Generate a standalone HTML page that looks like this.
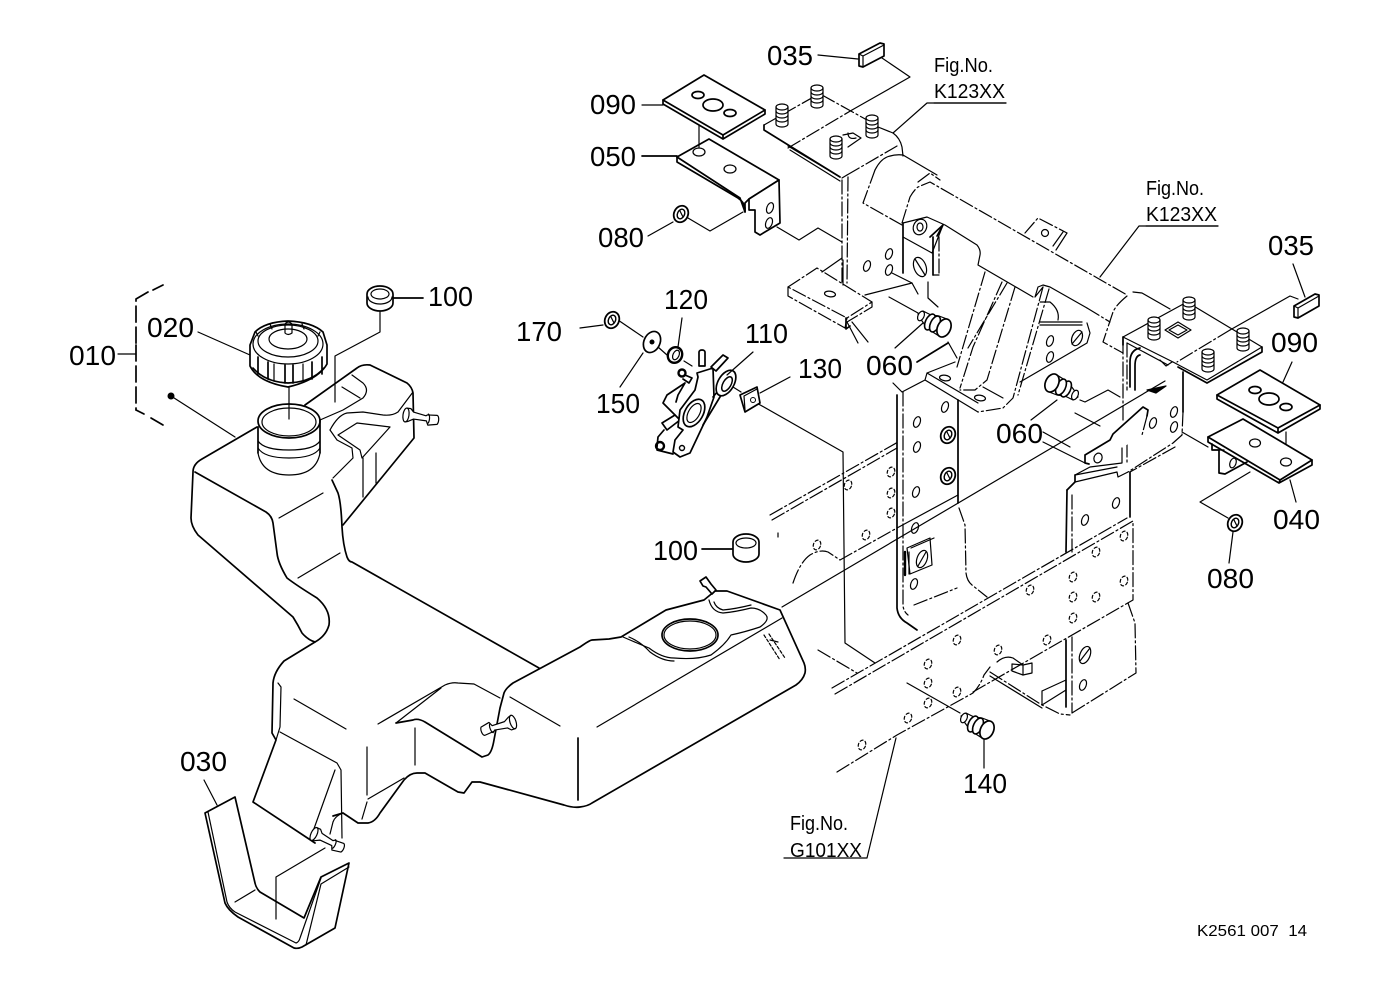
<!DOCTYPE html>
<html><head><meta charset="utf-8"><title>Parts diagram</title>
<style>
html,body{margin:0;padding:0;background:#fff;width:1379px;height:1001px;overflow:hidden}
svg{display:block}
path,line,ellipse,polygon,polyline{fill:none;stroke:#000;stroke-width:1.2;stroke-linejoin:round;stroke-linecap:round}
.m,.m *{stroke-width:1.7}
.h,.h *{stroke-width:2.4}
.d{stroke-dasharray:14 3 2 3}
.s{stroke-dasharray:3 2}
.w{fill:#fff}
text{font-family:"Liberation Sans",sans-serif;fill:#000;stroke:none}
.n{font-size:28px}
.f{font-size:20px}
</style></head><body>
<svg width="1379" height="1001" viewBox="0 0 1379 1001" xmlns="http://www.w3.org/2000/svg">
<defs>
<g id="stud"><path class="w" d="M-6,-9 A6,3 0 0 1 6,-9 L6,8 A6,3 0 0 1 -6,8 Z"/><path d="M-6,-9 A6,3 0 0 0 6,-9 M-6,-5 A6,3 0 0 0 6,-5 M-6,-1 A6,3 0 0 0 6,-1 M-6,3 A6,3 0 0 0 6,3"/></g>
<g id="nut"><ellipse class="w" rx="7" ry="8.5" transform="rotate(25)" style="stroke-width:1.8"/><ellipse rx="3.5" ry="5" transform="rotate(25)" style="stroke-width:1.4"/><path d="M-1,-3 L2,3"/></g>
<ellipse id="ho" rx="3.2" ry="5.5" transform="rotate(20)"/>
<ellipse id="hd" rx="3.6" ry="5" transform="rotate(20)" stroke-dasharray="3 2.5"/>
<ellipse id="lh" rx="5.5" ry="2.8" transform="rotate(8)"/>
<g id="bolt">
<path class="w" d="M-24,-13 L-19,-16 L-11,-12 L-3,-11 L5,-8 L6,5 L-3,9 L-14,2 L-20,-6 Z"/>
<ellipse cx="-21" cy="-11" rx="3" ry="5" transform="rotate(25 -21 -11)" class="w"/>
<ellipse cx="-12" cy="-5" rx="4.5" ry="8.5" transform="rotate(25 -12 -5)" class="w" style="stroke-width:1.6"/>
<ellipse cx="-7" cy="-3" rx="4.5" ry="8.5" transform="rotate(25 -7 -3)" class="w" style="stroke-width:1.6"/>
<ellipse cx="2" cy="1" rx="6.5" ry="9.5" transform="rotate(25 2 1)" class="w" style="stroke-width:1.7"/>
</g>
<g id="fit"><path class="w" d="M0,-7 a3,7 0 0 0 0,14 l3,-1 l5,-3 l13,0 l2,4 l9,-2 a2.5,5 0 0 0 -1,-9 l-10,1 l-1,1 l-13,-2 l-3,-3 Z"/><path d="M0,-7 a3,7 0 0 1 0,14 M22,-4 a2,5 0 0 1 1,9"/></g>
</defs>

<!-- long leader lines first -->
<line x1="782" y1="607" x2="1165" y2="381"/>
<path d="M755,402 L843,452 L845,643 L875,663"/>

<!-- Rails -->
<path class="d" d="M770,515 L898,442 M772,520 L897,448"/>
<path class="d" d="M793,583 Q800,562 810,555 Q820,549 828,552 L840,560 L897,528"/>
<path d="M897,528 L958,495"/>
<path class="d" d="M832,688 L1127,518 M835,694 L1133,521"/>
<line x1="818" y1="650" x2="857" y2="673" class="d"/>
<line x1="778" y1="533" x2="778" y2="537"/>
<path class="d" d="M837,772 L897,735 L973,693 Q980,686 984,675 L990,667"/>
<path class="d" d="M973,692 L1133,600 L1133,521"/>
<path class="d" d="M1128,603 L1135,623 L1136,673 L1072,713"/>
<path class="d" d="M990,672 L1042,705 L1060,714 L1070,715"/>
<path d="M990,676 L1042,708"/>
<path d="M1042,691 L1066,680 M1042,691 L1042,705 M1042,705 L1066,690"/>
<path d="M997,662 Q1005,655 1013,658 L1023,665 L1032,663 L1032,673 L1023,675 L1012,671 L1012,664 L1023,665"/>
<line x1="1023" y1="665" x2="1023" y2="675"/>
<path class="m" d="M1066,640 L1066,707 M1067,490 L1066,552"/>
<path class="d" d="M1072,637 L1072,713 M1072,495 L1072,552"/>

<!-- Central vertical frame -->
<path class="m" d="M897,395 L897,608 Q898,618 907,623 L917,630"/>
<path class="m" d="M958,400 L958,503"/>
<path class="d" d="M903,392 L903,606 Q904,612 908,615"/>
<line x1="914" y1="605" x2="957" y2="588" class="d"/>
<path class="d" d="M959,508 L965,525 L966,573 Q967,581 972,585 L987,597"/>
<path d="M893,383 L902,392 L925,380 M927,373 L925,380 L978,412 M927,373 L955,362 M927,373 L978,403"/>
<!-- Square in frame -->
<path class="w" d="M907,548 L930,538 L932,565 L910,574 Z"/>
<path d="M911,548 L934,538"/>
<path class="h" d="M905,552 L905,575"/>
<path d="M909,552 L909,574"/>
<ellipse cx="922" cy="559" rx="5" ry="9" transform="rotate(20 922 559)"/>
<line x1="918" y1="566" x2="926" y2="552"/>

<use href="#ho" x="945" y="407"/><use href="#ho" x="917" y="422"/><use href="#ho" x="917" y="447"/><use href="#ho" x="916" y="492"/><use href="#ho" x="915" y="528"/><use href="#ho" x="914" y="584"/>
<use href="#nut" x="948" y="435"/><use href="#nut" x="948" y="476"/>

<!-- Dashed holes in rails -->
<g>
<use href="#hd" x="891" y="472"/><use href="#hd" x="891" y="493"/><use href="#hd" x="891" y="513"/><use href="#hd" x="848" y="485"/><use href="#hd" x="866" y="535"/><use href="#hd" x="817" y="545"/><use href="#hd" x="1030" y="590"/><use href="#hd" x="957" y="640"/><use href="#hd" x="928" y="664"/><use href="#hd" x="928" y="683"/><use href="#hd" x="957" y="692"/><use href="#hd" x="928" y="703"/><use href="#hd" x="908" y="718"/><use href="#hd" x="862" y="745"/><use href="#hd" x="998" y="650"/><use href="#hd" x="1047" y="640"/><use href="#hd" x="1073" y="577"/><use href="#hd" x="1073" y="597"/><use href="#hd" x="1096" y="597"/><use href="#hd" x="1073" y="618"/><use href="#hd" x="1124" y="581"/><use href="#hd" x="1096" y="552"/><use href="#hd" x="1124" y="536"/>
</g>
<ellipse cx="1085" cy="655" rx="5" ry="9" transform="rotate(22 1085 655)"/><line x1="1080" y1="661" x2="1090" y2="648"/>
<use href="#ho" x="1083" y="685"/>
<use href="#ho" x="1085" y="520"/><use href="#ho" x="1116" y="503"/>

<!-- Top frame K123 -->
<g>
<path class="d" d="M764,125 L817,95 M822,95 L867,120"/>
<path class="m" d="M764,125 L764,130 L840,177"/>
<path d="M788,146 L840,177 M790,150 L840,181"/>
<path class="d" d="M788,148 L852,110 M847,175 L897,146"/>
<path d="M852,110 L910,77 L882,58"/>
<path d="M878,127 L893,133 Q900,138 902,147 L903,156"/>
<path d="M893,133 L927,103 L1006,103"/>
<path class="d" d="M842,180 L842,285 M848,177 L847,283"/>
<path d="M842,178 L847,175"/>
<path class="d" d="M875,170 L863,203 L902,225"/>
<path d="M875,170 Q880,160 887,157 Q895,154 903,155"/>
<path d="M903,155 L937,175"/>
<path class="d" d="M902,223 L910,197 Q914,190 918,187 L930,182 L1127,295"/>
<path class="d" d="M918,182 L930,173 L940,180"/>
<path d="M903,223 L927,217 L945,225 L977,245 Q981,250 980,255 L978,265 L1033,297"/>
<path d="M843,135 L853,133 L861,138 L848,147 M848,133 Q848,140 856,138"/>
<use href="#stud" x="782" y="116"/><use href="#stud" x="817" y="97"/><use href="#stud" x="872" y="127"/><use href="#stud" x="836" y="148"/>
</g>
<!-- Lower-left bracket on frame -->
<path class="d" d="M788,287 L817,268 L872,302 L847,318 L788,287"/>
<path class="d" d="M788,287 L788,296 L845,328 L847,318 M872,302 L872,307 L847,322"/>
<path class="m" d="M846,318 L846,329 L850,326"/>
<path d="M822,272 L842,258 M865,295 L912,283 M847,322 L858,343 M852,322 L868,342"/>
<use href="#lh" x="830" y="294"/>
<path d="M843,260 L843,285"/>
<use href="#ho" x="867" y="266"/><use href="#ho" x="889" y="254"/><use href="#ho" x="889" y="270"/>
<path d="M892,273 L912,283 L918,294 M889,297 L918,313"/>

<!-- Frame centre -->
<g>
<path class="m" d="M903,223 L903,273"/>
<path d="M903,237 L932,253 M932,253 L943,225"/>
<path class="m" d="M933,237 L933,275"/>
<path class="d" d="M939,237 L939,275"/>
<path d="M933,275 L939,275"/>
<ellipse cx="920" cy="227" rx="6.5" ry="8" transform="rotate(25 920 227)" class="w"/><ellipse cx="920" cy="227" rx="3" ry="4"/>
<path class="m" d="M930,237 L943,225 L937,236"/>
<ellipse cx="920" cy="267" rx="6" ry="10" transform="rotate(-20 920 267)"/><line x1="915" y1="259" x2="925" y2="275"/>
<path d="M928,282 L928,298 L938,307"/>
</g>
<path class="d" d="M985,272 L957,367"/>
<path class="d" d="M1002,282 L973,347 L960,388 M1007,283 L968,348"/>
<path class="d" d="M1015,287 L987,380 L975,390 L960,390"/>
<path d="M983,387 L1003,398"/>
<path class="d" d="M1043,287 L1013,398 L1003,408 L978,412"/>
<path class="d" d="M1049,289 L1018,395"/>
<path d="M1035,297 L1038,287 L1043,285 L1050,287 L1087,308 M1035,297 L1043,287"/>
<path class="d" d="M1087,308 L1110,322"/>
<path d="M1087,323 L1090,333 L1087,343 L1020,382"/>
<path d="M1040,302 L1050,302 Q1060,310 1058,320 M1040,322 L1082,322 M1040,325 L1082,325"/>
<use href="#ho" x="1050" y="341"/><use href="#ho" x="1050" y="357"/><ellipse cx="1077" cy="338" rx="5" ry="8" transform="rotate(22 1077 338)"/><line x1="1072" y1="344" x2="1082" y2="332"/>
<use href="#lh" x="945" y="378"/><use href="#lh" x="980" y="398"/>

<!-- Small tab on beam -->
<path class="d" d="M1025,233 L1038,218 L1067,233"/>
<path d="M1067,233 L1056,250 M1063,232 L1053,246"/>
<ellipse cx="1045" cy="233" rx="3.5" ry="3.5"/>

<!-- Right end -->
<path class="d" d="M1127,296 Q1116,305 1113,312 L1103,342 L1123,353"/>
<path d="M1133,292 L1142,293 L1170,309"/>
<path d="M1100,277 L1139,226 L1218,226"/>
<path class="w" style="stroke:none" d="M1123,337 L1187,302 L1262,347 L1207,380 Z"/>
<path d="M1123,337 L1187,302 L1262,347 L1207,380 L1173,362"/>
<path class="m" d="M1123,337 L1123,345 M1262,347 L1262,352 L1207,383 L1178,367"/>
<path class="d" d="M1123,340 L1123,420"/>
<path d="M1123,337 L1173,362 M1127,343 L1168,365"/>
<path class="d" d="M1127,343 L1127,390 M1127,443 L1127,463"/>
<path class="d" d="M1230,330 L1177,362"/>
<path d="M1230,330 L1290,296 L1298,299"/>
<path class="m" d="M1140,348 Q1130,350 1130,362 L1130,387 M1140,355 Q1135,356 1135,366 L1135,390"/>
<path d="M1160,360 L1166,366 L1172,362"/>
<path class="m" d="M1183,372 L1183,412"/>
<path class="d" d="M1183,412 L1182,435 L1173,443 L1128,472"/>
<path class="d" d="M1175,447 L1130,472"/>
<polygon points="1147,390 1166,386 1156,393" style="fill:#000"/>
<path d="M1178,322 L1191,330 L1178,338 L1165,330 Z M1178,325 L1187,330 L1178,335 L1169,330 Z"/>
<use href="#stud" x="1154" y="329"/><use href="#stud" x="1189" y="309"/><use href="#stud" x="1243" y="340"/><use href="#stud" x="1208" y="361"/>
<use href="#ho" x="1174" y="412"/><use href="#ho" x="1153" y="423"/><use href="#ho" x="1174" y="427"/>
<path d="M1182,432 L1208,447 M1080,400 L1085,402 L1108,390 L1120,397 M1075,413 L1100,426 M1043,432 L1070,447 M1043,442 L1085,463"/>

<!-- Right arm -->
<path class="w" d="M1085,455 L1110,436 L1143,407 L1148,410 L1142,435 L1122,448 L1089,464 L1085,463 Z" style="stroke:none"/>
<path class="m" d="M1085,455 L1110,440 L1113,434 L1143,407 L1148,410 L1147,416 M1085,455 L1085,463 L1089,464"/>
<path class="d" d="M1147,416 L1142,435"/>
<ellipse cx="1098" cy="458" rx="4" ry="5" transform="rotate(20 1098 458)"/>
<path d="M1122,448 L1122,463 L1090,467 L1075,475"/>
<path class="m" d="M1075,475 L1075,482 L1067,490"/>
<path d="M1075,475 L1117,467 M1075,482 L1117,472 L1118,477 L1128,472"/>
<path class="m" d="M1130,472 L1130,517"/>

<!-- tank -->
<g class="m">
<path class="w" style="stroke:none" d="M258,427 L198,461 L191,518 L315,642 L278,668 L272,733 L253,802 L315,843 L358,823 L417,773 L464,793 L580,807 L805,673 L780,610 L715,591 L592,640 L539,668 L350,560 L343,525 L414,438 L413,393 L370,365 L305,405 Z"/>
<path d="M257,427 L202,459 Q193,464 193,472 L191,518 Q191,526 198,535 L293,617 Q298,625 302,633 Q308,640 315,642 Q326,636 329,625 Q331,610 317,598 Q296,585 287,578 Q278,563 277,553 L273,523 Q272,516 266,512 L195,472"/>
<path d="M315,642 L284,661 Q274,672 273,683 L272,733 L276,740 L253,802 L315,843"/>
<path d="M333,816 L343,813 L358,823 L368,823 Q375,822 380,813 L404,780 Q410,773 417,773 L425,773 L458,792 L464,793 L472,782 L480,782 L564,805 Q573,808 580,807 Q588,806 592,803 L796,685 Q803,680 805,673 Q806,668 804,663 L780,610 L727,591 L715,591 L704,600 L666,610 L621,637 L609,639 L592,640 Q590,640 580,647 L513,683 Q506,688 504,693 L500,708 L494,740 Q492,752 488,755 L482,757 L425,722 Q418,718 413,720 L396,723"/>
<path d="M305,405 L357,368 Q362,364 370,365 L407,383 Q412,387 413,393 L414,438 L343,525"/>
<path d="M332,480 L338,493 Q341,502 342,527 Q343,545 347,557 Q349,562 352,562 L539,668"/>
</g>
<path d="M278,683 L281,687 L280,727 L276,740 M280,732 L337,763 L341,770 L342,838 M335,770 L311,837"/>
<path d="M368,799 L404,778 M367,802 L362,819"/>
<path d="M378,724 L445,685 Q452,682 458,683 L474,684 L500,698 M396,723 L441,688"/>
<path d="M294,699 L346,729 M510,697 L560,726 M597,727 L782,618"/>
<path d="M367,747 L367,795 M415,728 L415,765"/>
<path class="m" d="M578,738 L578,800"/>
<path d="M343,813 Q335,816 333,822 L330,834"/>
<!-- Tank top detail -->
<path d="M623,637 Q637,643 649,648 Q662,658 674,658 Q696,660 711,655 Q725,645 731,635 Q745,632 760,627 Q770,620 766,615 Q760,608 751,608 Q735,612 723,613 Q712,612 709,600"/>
<path d="M629,637 Q641,642 650,652 Q662,661 674,661"/>
<path d="M714,602 Q716,608 723,610 Q735,609 751,605"/>
<ellipse cx="690" cy="635" rx="28" ry="16" class="m"/>
<ellipse cx="690" cy="635" rx="26" ry="14"/>
<path class="s" d="M764,635 L780,660 M769,634 L785,658"/>
<path d="M770,640 L778,642"/>
<!-- Upper tank detail -->
<path d="M320,420 L343,410 L363,398 Q370,390 363,383 L352,375 M342,387 L360,398"/>
<path d="M330,430 Q338,415 347,413 L363,412 L383,415 Q392,416 398,412 L413,392"/>
<path d="M338,435 L357,423 L390,427 M338,435 L360,450 L362,458 L390,427 M330,430 L337,440 L352,448 L353,458 L333,478"/>
<path d="M363,458 L363,497 M376,453 L376,483"/>
<path d="M279,518 L323,493 M298,578 L340,553"/>
<!-- Neck -->
<path class="m" d="M258,427 L258,453 M320,420 L320,453"/>
<path d="M258,453 Q262,475 289,475 Q316,475 320,453 M258,441 Q264,450 289,450 Q314,450 320,441 M258,448 Q264,458 289,458 Q314,458 320,448"/>
<ellipse class="m" cx="289" cy="421" rx="31" ry="17"/>
<ellipse cx="289" cy="422" rx="27" ry="14"/>
<line x1="289" y1="387" x2="289" y2="419"/>
<!-- Cap -->
<path class="w m" d="M250,345 L255,332 Q265,322 288,321 Q312,322 323,332 L327,345 L327,364 Q318,380 288,387 Q258,382 250,366 Z"/>
<ellipse cx="288" cy="344" rx="35" ry="20"/>
<ellipse cx="288" cy="341" rx="30" ry="16"/>
<ellipse cx="288" cy="339" rx="19" ry="10"/>
<path class="m" d="M253,368 Q265,382 288,383 Q312,382 324,368"/>
<path class="m" d="M258,357 L258,374 M268,362 L268,379 M285,365 L285,383 M293,365 L293,383 M312,362 L312,379 M322,357 L322,374"/>
<path d="M274,364 L274,381 M303,364 L303,381"/>
<path d="M285,324 L285,333 Q288,336 292,333 L292,324 Q288,320 285,324"/>
<path d="M270,324 L272,329 M302,324 L304,329 M256,332 L258,336 M320,332 L318,336"/>
<!-- Ring 100 -->
<path class="w m" d="M367,294 A13,8 0 0 1 393,294 L393,303 A13,8 0 0 1 367,303 Z"/>
<ellipse cx="380" cy="294" rx="9" ry="5"/>
<path d="M368,297 A12,7 0 0 0 392,297"/>
<path class="m" d="M393,298 L423,298"/>
<path d="M380,312 L380,332 L335,356 L335,402"/>
<path d="M198,332 L250,355"/>
<circle cx="171" cy="396" r="3.5" fill="#000" stroke="none"/>
<path d="M171,396 L235,437"/>
<path class="m" d="M163,285 L153,290 M148,292 L136,299 L136,345 M136,345 L136,410" stroke-dasharray="16 5"/>
<path class="m" d="M136,410 L144,414 M151,418 L163,425"/>
<path d="M118,354 L136,354"/>

<!-- fittings on tank -->
<use href="#fit" x="406" y="415" transform="rotate(8 406 415)"/>
<use href="#fit" x="513" y="722" transform="rotate(162 513 722)"/>
<use href="#fit" x="314" y="834" transform="rotate(25 314 834)"/>
<path class="w m" d="M700,581 L706,577 L711,584 L716,590 L712,594 L706,587 L703,586 Z"/>

<!-- Bracket 030 -->
<g class="m">
<path class="w" d="M205,813 L235,797 L255,883 Q256,888 260,892 L304,918 L321,877 L349,863 L335,928 L302,947 Q298,949 294,948 L238,917 Q228,910 225,903 Z"/>
</g>
<path d="M208,812 L227,902 Q229,908 235,912 L296,943 Q299,942 300,938 L321,878 M306,945 L321,884 L349,867"/>
<path d="M235,902 L255,890"/>
<path d="M204,780 L217,805"/>
<path d="M325,848 L276,877 L276,919"/>

<!-- 090 / 050 left -->
<g>
<path class="w m" d="M663,100 L704,75 L765,110 L723,135 Z"/>
<path class="m" d="M663,100 L663,104 L723,139 L765,114 L765,110 M723,135 L723,139"/>
<ellipse cx="698" cy="95" rx="6" ry="3.5" class="m" /><ellipse cx="713" cy="105" rx="10" ry="6" class="m"/><ellipse cx="730" cy="113" rx="6" ry="3.5" class="m"/>
<path d="M642,105 L663,105"/>
<path class="w m" d="M677,157 L709,139 L779,180 L749,199 L745,203 L745,212 L740,198 Z"/>
<path class="m" d="M677,157 L677,162 L738,198 Q744,202 745,208 L745,212"/>
<line x1="699" y1="125" x2="699" y2="147"/>
<path class="m" d="M642,156 L677,156"/>
<path class="w m" d="M749,199 L779,180 L780,223 L760,235 L755,232 L755,210 L749,210 Z"/>
<ellipse cx="699" cy="152" rx="6" ry="4"/><ellipse cx="730" cy="169" rx="6" ry="4"/>
<use href="#ho" x="770" y="208"/><use href="#ho" x="769" y="223"/>
<path d="M648,236 L673,222 M688,218 L710,231 L743,212 M777,227 L799,240 L818,228 L842,242"/>
<use href="#nut" x="681" y="214"/>
</g>
<!-- 035 top -->
<path class="w m" d="M859,54 L880,43 L884,44 L884,56 L863,67 L859,66 Z"/>
<path d="M863,56 L863,67 M863,56 L884,45 M859,54 L863,56"/>
<path d="M818,55 L858,59"/>

<!-- 110 group -->
<g>
<path class="m" d="M685,383 L667,395 L663,403 L675,415 M685,383 L678,395 L676,402"/>
<path class="w m" d="M662,423 L675,415 L680,420 L667,430 Z"/>
<path class="m" d="M664,430 L658,437 L657,447 M657,450 L673,454"/>
<path class="w m" d="M697,373 L713,368 L714,397 L707,417 L690,453 L680,457 L673,452 L675,440 L683,430 L678,427 L680,410 L695,390 L698,377 Z"/>
<path class="m" d="M713,397 L733,373 M703,425 L723,392"/>
<ellipse cx="694" cy="413" rx="9" ry="15" transform="rotate(30 694 413)" class="m"/><ellipse cx="694" cy="413" rx="5.5" ry="10.5" transform="rotate(30 694 413)"/>
<path class="w m" d="M699,352 a3,2 0 0 1 6,0 L705,366 L699,366 Z"/>
<path class="w m" d="M711,367 L723,355 L728,358 L716,371 Z"/>
<ellipse cx="682" cy="373" rx="3.5" ry="3.5" fill="#000" class="h"/>
<path class="m" d="M685,375 L692,378 L689,383 L683,379"/>
<ellipse cx="726" cy="383" rx="8" ry="14" transform="rotate(30 726 383)" class="w m"/>
<ellipse cx="727" cy="384" rx="4" ry="8" transform="rotate(30 727 384)" style="stroke-width:1.5"/>
<ellipse cx="660" cy="446" rx="4" ry="4" class="h"/>
<circle cx="682" cy="448" r="2.5" class="m" style="fill:none;stroke:#000;stroke-width:1.4"/>
<path d="M618,320 L643,337 M658,347 L667,355 M684,361 L692,366 M733,387 L741,392"/>
</g>
<use href="#nut" x="612" y="320"/>
<ellipse cx="652" cy="342" rx="8" ry="11" transform="rotate(25 652 342)" class="w m"/><circle cx="652" cy="342" r="2.5" fill="#000"/>
<ellipse cx="675" cy="355" rx="7" ry="8" transform="rotate(25 675 355)" class="w h"/><ellipse cx="676" cy="355" rx="3" ry="5" transform="rotate(25 676 355)"/>
<path class="w m" d="M740,395 L757,387 L760,403 L745,412 Z"/>
<path d="M744,396 L745,410 M744,396 L757,389"/>
<circle cx="753" cy="400" r="2.5" style="fill:none;stroke:#000"/>
<path d="M580,328 L603,325 M620,387 L643,353 M682,318 L678,347 M753,352 L727,375 M790,377 L760,393"/>

<!-- 100 mid -->
<path class="w m" d="M733,542 A13,8 0 0 1 759,542 L759,554 A13,8 0 0 1 733,554 Z"/>
<ellipse cx="746" cy="543" rx="10" ry="5"/>
<path class="m" d="M702,549 L732,549"/>

<!-- bolts -->
<use href="#bolt" transform="translate(942,327)"/>
<path d="M895,348 L923,323 M948,342 L957,358"/>
<path class="m" d="M917,362 L948,343"/>
<use href="#bolt" transform="translate(1054,384) scale(-1,-1)"/>
<path d="M1031,420 L1057,400"/>
<use href="#bolt" transform="translate(985,729)"/>
<path d="M907,683 L960,713 M984,740 L984,768"/>
<path d="M896,738 L867,858 L784,858"/>
<path d="M934,103 L1006,103 M1146,226 L1218,226"/>

<!-- 090 / 040 right -->
<path class="w m" d="M1217,395 L1260,370 L1320,405 L1278,428 Z"/>
<path class="m" d="M1217,395 L1217,399 L1278,433 L1320,409 L1320,405 M1278,428 L1278,433"/>
<ellipse cx="1255" cy="390" rx="6" ry="3.5" class="m"/><ellipse cx="1269" cy="399" rx="10" ry="6" class="m"/><ellipse cx="1286" cy="407" rx="6" ry="3.5" class="m"/>
<path d="M1283,382 L1292,362 M1286,432 L1286,457"/>
<path class="w m" d="M1208,437 L1243,419 L1312,460 L1280,480 Z"/>
<path class="m" d="M1208,437 L1208,442 L1279,483 L1312,465 L1312,460 M1280,480 L1279,483"/>
<path class="m" d="M1212,444 L1212,450 L1219,450 L1219,473 L1225,474 L1247,462"/>
<path d="M1220,450 L1224,450"/>
<ellipse cx="1233" cy="463" rx="3" ry="5" transform="rotate(20 1233 463)"/>
<ellipse cx="1255" cy="443" rx="5.5" ry="4"/><ellipse cx="1286" cy="462" rx="5.5" ry="4"/>
<path d="M1290,480 L1296,502 M1250,472 L1200,502 L1228,518"/>
<use href="#nut" x="1235" y="523"/>
<path d="M1233,532 L1229,563"/>
<!-- 035 right -->
<path class="w m" d="M1294,306 L1315,294 L1319,295 L1319,306 L1298,318 L1294,317 Z"/>
<path d="M1298,308 L1298,318 M1298,308 L1319,296 M1294,306 L1298,308"/>
<path d="M1305,297 L1293,264"/>

<!-- Labels -->
<text class="n" x="767" y="65" textLength="46" lengthAdjust="spacingAndGlyphs">035</text>
<text class="n" x="590" y="114" textLength="46" lengthAdjust="spacingAndGlyphs">090</text>
<text class="n" x="590" y="166" textLength="46" lengthAdjust="spacingAndGlyphs">050</text>
<text class="n" x="598" y="247" textLength="46" lengthAdjust="spacingAndGlyphs">080</text>
<text class="n" x="428" y="306" textLength="45" lengthAdjust="spacingAndGlyphs">100</text>
<text class="n" x="147" y="337" textLength="47" lengthAdjust="spacingAndGlyphs">020</text>
<text class="n" x="69" y="365" textLength="47" lengthAdjust="spacingAndGlyphs">010</text>
<text class="n" x="516" y="341" textLength="46" lengthAdjust="spacingAndGlyphs">170</text>
<text class="n" x="664" y="309" textLength="44" lengthAdjust="spacingAndGlyphs">120</text>
<text class="n" x="745" y="343" textLength="43" lengthAdjust="spacingAndGlyphs">110</text>
<text class="n" x="798" y="378" textLength="44" lengthAdjust="spacingAndGlyphs">130</text>
<text class="n" x="596" y="413" textLength="44" lengthAdjust="spacingAndGlyphs">150</text>
<text class="n" x="866" y="375" textLength="47" lengthAdjust="spacingAndGlyphs">060</text>
<text class="n" x="996" y="443" textLength="47" lengthAdjust="spacingAndGlyphs">060</text>
<text class="n" x="1268" y="255" textLength="46" lengthAdjust="spacingAndGlyphs">035</text>
<text class="n" x="1271" y="352" textLength="47" lengthAdjust="spacingAndGlyphs">090</text>
<text class="n" x="1273" y="529" textLength="47" lengthAdjust="spacingAndGlyphs">040</text>
<text class="n" x="1207" y="588" textLength="47" lengthAdjust="spacingAndGlyphs">080</text>
<text class="n" x="653" y="560" textLength="45" lengthAdjust="spacingAndGlyphs">100</text>
<text class="n" x="180" y="771" textLength="47" lengthAdjust="spacingAndGlyphs">030</text>
<text class="n" x="963" y="793" textLength="44" lengthAdjust="spacingAndGlyphs">140</text>
<text class="f" x="934" y="72" textLength="59" lengthAdjust="spacingAndGlyphs">Fig.No.</text>
<text class="f" x="934" y="98" textLength="71" lengthAdjust="spacingAndGlyphs">K123XX</text>
<text class="f" x="1146" y="195" textLength="58" lengthAdjust="spacingAndGlyphs">Fig.No.</text>
<text class="f" x="1146" y="221" textLength="71" lengthAdjust="spacingAndGlyphs">K123XX</text>
<text class="f" x="790" y="830" textLength="58" lengthAdjust="spacingAndGlyphs">Fig.No.</text>
<text class="f" x="790" y="857" textLength="72" lengthAdjust="spacingAndGlyphs">G101XX</text>
<text x="1197" y="936" font-size="16" textLength="110" lengthAdjust="spacingAndGlyphs" xml:space="preserve">K2561 007  14</text>
</svg>
</body></html>
